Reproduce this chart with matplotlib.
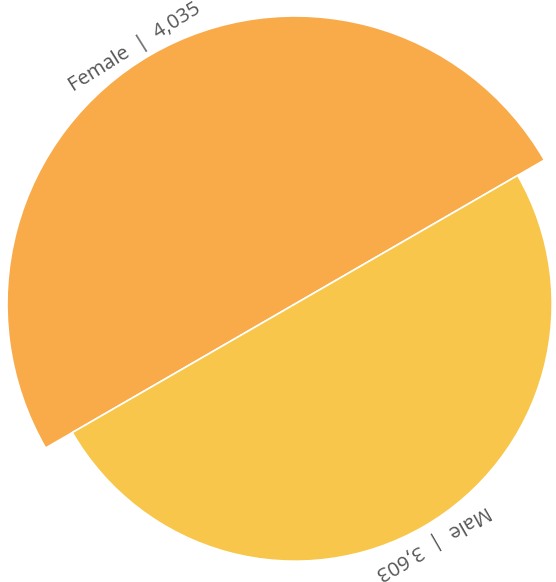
import numpy as np
import matplotlib.pyplot as plt
from matplotlib.patches import Wedge

# Data
categories = ['Female', 'Male']
counts = [4035, 3603]
colors = ['#F9AB4A', '#F8C64A']

# Layout (figure pixels, y up)
W, H = 556, 582
center = (295, 278)
scale = 288 / max(counts)   # radius proportional to value
start_angle = 30
label_gap = [14, 18]        # px outside the arc
label_nudge = [2, 0]        # degrees

fig = plt.figure(figsize=(W / 100, H / 100), dpi=100)
ax = fig.add_axes([0, 0, 1, 1])
ax.set_xlim(0, W)
ax.set_ylim(0, H)
ax.set_aspect('equal')
ax.axis('off')

step = 360 / len(counts)
for i, (cat, val, col) in enumerate(zip(categories, counts, colors)):
    t1 = start_angle + i * step
    t2 = t1 + step
    r = val * scale
    ax.add_patch(Wedge(center, r, t1, t2, facecolor=col,
                       edgecolor='white', linewidth=1.2))

    mid = (t1 + t2) / 2 + label_nudge[i]
    lr = r + label_gap[i]
    x = center[0] + lr * np.cos(np.deg2rad(mid))
    y = center[1] + lr * np.sin(np.deg2rad(mid))
    ax.text(x, y, f'{cat}  |  {val:,}', rotation=mid - 90,
            ha='center', va='center', rotation_mode='anchor',
            fontsize=14.5, color='#555555', family=['Open Sans', 'DejaVu Sans'])

fig.savefig('out.png', dpi=100)
